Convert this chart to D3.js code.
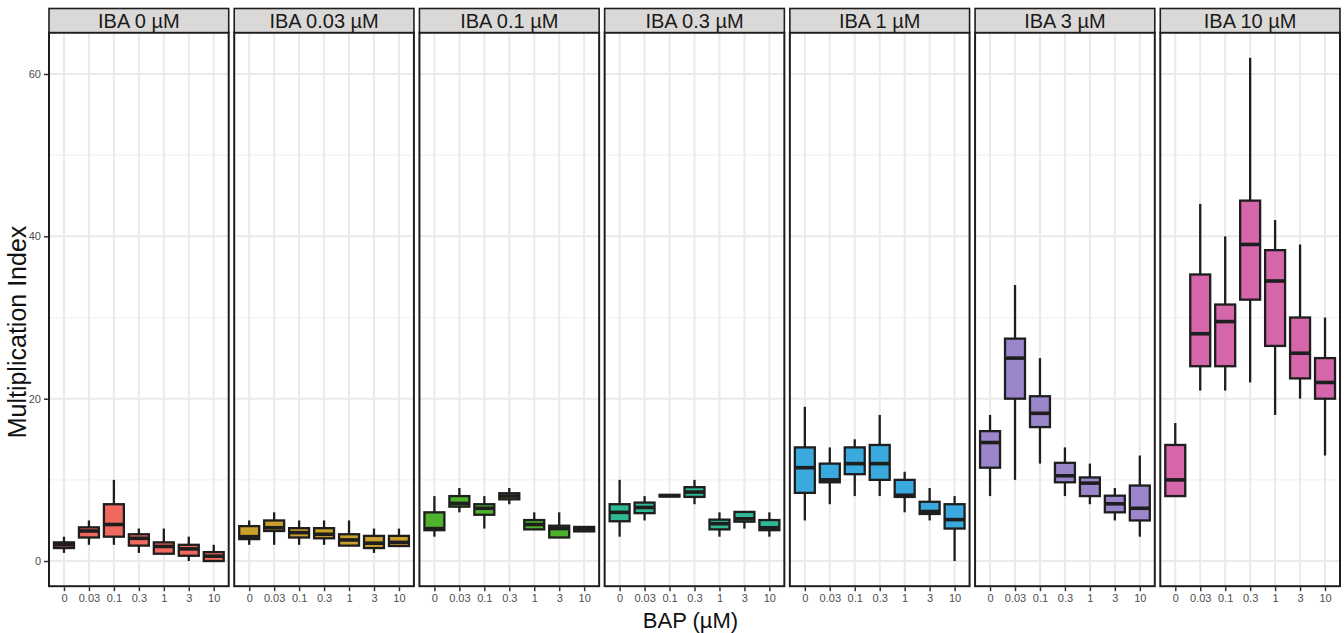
<!DOCTYPE html>
<html>
<head>
<meta charset="utf-8">
<script src="https://cdn.jsdelivr.net/npm/d3@7"></script>
<style>
  html, body { margin: 0; padding: 0; background: #ffffff; }
  svg { display: block; }
</style>
</head>
<body>
<svg id="chart" width="1344" height="633"></svg>
<script>
// ---- data ----
const bapLevels = ["0", "0.03", "0.1", "0.3", "1", "3", "10"];
const ibaLevels = ["IBA 0 µM", "IBA 0.03 µM", "IBA 0.1 µM", "IBA 0.3 µM", "IBA 1 µM", "IBA 3 µM", "IBA 10 µM"];
const yTicks = [0, 20, 40, 60];
const yMinorTicks = [10, 30, 50];

// one row per IBA panel, one column per BAP level
const whiskerLow = [
  [1, 2, 2, 1, 0.9, 0, 0],
  [2, 2, 2, 2, 1.9, 1, 1.85],
  [3, 6, 4, 7, 3.9, 2.9, 3.65],
  [3, 5, 7.95, 7, 3, 4, 3],
  [5, 7, 8, 8, 6, 5, 0],
  [8, 10, 12, 8, 7, 5, 3],
  [8, 21, 21, 22, 18, 20, 13]
];
const q1 = [
  [1.6, 2.9, 3, 1.9, 0.9, 0.65, 0],
  [2.7, 3.7, 2.9, 2.8, 1.9, 1.6, 1.85],
  [3.8, 6.7, 5.7, 7.6, 3.9, 2.9, 3.65],
  [4.9, 5.9, 7.95, 7.9, 3.9, 4.85, 3.8],
  [8.4, 9.7, 10.7, 10, 7.9, 5.8, 4],
  [11.5, 20, 16.5, 9.7, 8, 6, 5],
  [8, 24, 24, 32.2, 26.5, 22.5, 20]
];
const median = [
  [2.0, 3.7, 4.5, 2.8, 1.8, 1.5, 0.6],
  [3.0, 4.1, 3.5, 3.3, 2.6, 2.2, 2.3],
  [4.0, 7.1, 6.5, 8.0, 4.5, 4.0, 3.95],
  [6.0, 6.6, 8.05, 8.5, 4.6, 5.2, 4.1],
  [11.5, 10, 12, 12, 8.1, 6.1, 5.1],
  [14.6, 25, 18.2, 10.5, 9.6, 7.05, 6.5],
  [10, 28, 29.5, 39, 34.5, 25.6, 22]
];
const q3 = [
  [2.3, 4.15, 7, 3.3, 2.3, 2.0, 1.1],
  [4.3, 5, 4.05, 4.05, 3.3, 3.1, 3.1],
  [6, 8, 7, 8.35, 5.05, 4.35, 4.2],
  [7, 7.2, 8.15, 9.1, 5.1, 6.05, 5.05],
  [14, 12, 14, 14.3, 10, 7.3, 7],
  [16, 27.4, 20.3, 12.1, 10.3, 8.05, 9.3],
  [14.3, 35.3, 31.6, 44.4, 38.3, 30, 25]
];
const whiskerHigh = [
  [3, 5, 10, 4, 4, 3, 2],
  [5, 6, 5, 5, 5, 4, 4],
  [8, 9, 8, 9, 6, 6, 4.2],
  [10, 8, 8.15, 10, 6, 6.05, 6],
  [19, 14, 15, 18, 11, 9, 8],
  [18, 34, 25, 14, 12, 9, 13],
  [17, 44, 40, 62, 42, 39, 30]
];

// ---- styles ----
const fillColors = ["#F0695F", "#C9A02C", "#4DB32F", "#2EB894", "#39A9DE", "#9B86CB", "#D566AA"];
const ink = "#1e1e1e";
const font = "Liberation Sans, Arial, sans-serif";

// ---- layout ----
const svg = d3.select("#chart");
const plotLeft = 49, plotRight = 1340, gap = 5.5;
const panelW = (plotRight - plotLeft - gap * 6) / 7;
const stripTop = 8.5;
const yScale = d3.scaleLinear().domain([-3.1, 65.1]).range([586.2, 32.6]);
const panelTop = yScale(65.1), panelBottom = yScale(-3.1);

const panelX = d3.scaleBand().domain(ibaLevels).range([plotLeft, plotRight]).paddingInner(gap / (panelW + gap)).paddingOuter(0);

ibaLevels.forEach((iba, p) => {
  const x0 = panelX(iba);
  const w = panelX.bandwidth();
  const xScale = d3.scalePoint().domain(bapLevels).range([x0 + w * 0.6 / 7.2, x0 + w * 6.6 / 7.2]);
  const step = w / 7.2;
  const g = svg.append("g");

  g.append("rect").attr("x", x0).attr("y", panelTop).attr("width", w).attr("height", panelBottom - panelTop).attr("fill", "#ffffff");

  g.selectAll(".ymin").data(yMinorTicks).join("line")
    .attr("x1", x0).attr("x2", x0 + w)
    .attr("y1", d => yScale(d)).attr("y2", d => yScale(d))
    .attr("stroke", "#F3F1F0").attr("stroke-width", 1.2);
  g.selectAll(".ymaj").data(yTicks).join("line")
    .attr("x1", x0).attr("x2", x0 + w)
    .attr("y1", d => yScale(d)).attr("y2", d => yScale(d))
    .attr("stroke", "#ECEAE9").attr("stroke-width", 2);
  g.selectAll(".xmaj").data(bapLevels).join("line")
    .attr("x1", d => xScale(d)).attr("x2", d => xScale(d))
    .attr("y1", panelTop).attr("y2", panelBottom)
    .attr("stroke", "#ECEAE9").attr("stroke-width", 2);

  const boxW = step * 0.8;
  const rows = bapLevels.map((b, i) => ({
    b, lo: whiskerLow[p][i], q1: q1[p][i], med: median[p][i], q3: q3[p][i], hi: whiskerHigh[p][i]
  }));
  const bg = g.selectAll(".box").data(rows).join("g");
  bg.append("line")
    .attr("x1", d => xScale(d.b)).attr("x2", d => xScale(d.b))
    .attr("y1", d => yScale(d.q3)).attr("y2", d => yScale(d.hi))
    .attr("stroke", ink).attr("stroke-width", 2.3);
  bg.append("line")
    .attr("x1", d => xScale(d.b)).attr("x2", d => xScale(d.b))
    .attr("y1", d => yScale(d.q1)).attr("y2", d => yScale(d.lo))
    .attr("stroke", ink).attr("stroke-width", 2.3);
  bg.append("rect")
    .attr("x", d => xScale(d.b) - boxW / 2).attr("width", boxW)
    .attr("y", d => yScale(d.q3)).attr("height", d => Math.max(0.5, yScale(d.q1) - yScale(d.q3)))
    .attr("fill", fillColors[p]).attr("stroke", ink).attr("stroke-width", 2.3);
  bg.append("line")
    .attr("x1", d => xScale(d.b) - boxW / 2).attr("x2", d => xScale(d.b) + boxW / 2)
    .attr("y1", d => yScale(d.med)).attr("y2", d => yScale(d.med))
    .attr("stroke", ink).attr("stroke-width", 3.6);

  g.append("rect").attr("x", x0).attr("y", panelTop).attr("width", w).attr("height", panelBottom - panelTop)
    .attr("fill", "none").attr("stroke", ink).attr("stroke-width", 2);

  g.append("rect").attr("x", x0).attr("y", stripTop).attr("width", w).attr("height", panelTop - stripTop)
    .attr("fill", "#DBD9D7").attr("stroke", ink).attr("stroke-width", 1.6);
  g.append("text").attr("x", x0 + w / 2).attr("y", (stripTop + panelTop) / 2 + 7)
    .attr("text-anchor", "middle").attr("font-family", font)
    .attr("font-size", 20).attr("fill", "#1a1a1a").text(iba);

  const xAxis = d3.axisBottom(xScale).tickSize(4).tickPadding(3);
  const ax = g.append("g").attr("transform", `translate(0,${panelBottom + 1})`).call(xAxis);
  ax.select(".domain").remove();
  ax.selectAll(".tick line").attr("stroke", "#333").attr("stroke-width", 1.5);
  ax.selectAll(".tick text").attr("font-family", font).attr("font-size", 11).attr("fill", "#4d4d4d");

  if (p === 0) {
    const yAxis = d3.axisLeft(yScale).tickValues(yTicks).tickSize(4).tickPadding(3);
    const ay = g.append("g").attr("transform", `translate(${x0 - 1},0)`).call(yAxis);
    ay.select(".domain").remove();
    ay.selectAll(".tick line").attr("stroke", "#333").attr("stroke-width", 1.5);
    ay.selectAll(".tick text").attr("font-family", font).attr("font-size", 11).attr("fill", "#4d4d4d");
  }
});

svg.append("text").attr("x", (plotLeft + plotRight) / 2 - 4).attr("y", 628)
  .attr("text-anchor", "middle").attr("font-family", font)
  .attr("font-size", 22).attr("fill", "#111").text("BAP (µM)");
svg.append("text").attr("transform", `translate(26,332) rotate(-90)`)
  .attr("text-anchor", "middle").attr("font-family", font)
  .attr("font-size", 25).attr("fill", "#111").text("Multiplication Index");
</script>
</body>
</html>
